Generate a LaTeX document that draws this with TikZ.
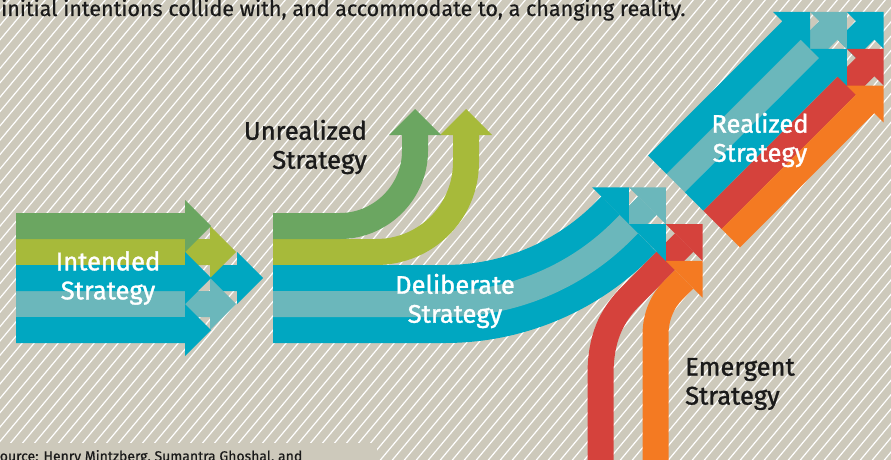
\documentclass[tikz,border=0pt]{standalone}
\usepackage{fontspec}
\setmainfont{Fira Sans}
\newfontfamily\labelfont{Fira Sans}[FakeBold=1.3]
\newfontfamily\leadfont{Fira Sans}[FakeBold=0.6]
\definecolor{sand}{HTML}{CDC9BB}
\definecolor{ink}{HTML}{1A1A1A}
\definecolor{cgreen}{HTML}{6BA661}
\definecolor{clime}{HTML}{A7BA3A}
\definecolor{cteal}{HTML}{00A7C1}
\definecolor{cpale}{HTML}{6BB7BB}
\definecolor{cred}{HTML}{D5423C}
\definecolor{corange}{HTML}{F47A22}
% one strand: colour, tail, head base, centre line
\newcommand{\fletch}[4]{\fill[#1] (#2,#4-13) -- (#3,#4-13) -- (#3,#4-26) -- (#3+26,#4) -- (#3,#4+26) -- (#3,#4+13) -- (#2,#4+13) -- cycle;}

\begin{document}
\begin{tikzpicture}[x=1pt, y=-1pt,
  band/.style={line width=26pt},
  diag/.style={shift={(810,12)}, x={(0.7071pt,0.7071pt)}, y={(0.7071pt,-0.7071pt)}},
  caption/.style={align=center, inner sep=0pt, font=\labelfont\fontsize{25.5}{29}\selectfont}]
  \useasboundingbox (0,0) rectangle (891,460);
  \clip (0,0) rectangle (891,460);
  \fill[sand] (0,0) rectangle (891,460);
  \foreach \i in {-36,...,76}
    \draw[white, line width=1.2pt] (\i*12,470) -- ++(410,-490);
  \fill[sand] (0,443) rectangle (377,460);

  % intended
  \fletch{cteal}{210}{237}{278}
  \fletch{clime}{16}{210}{252}
  \fletch{cpale}{16}{210}{304}
  \fletch{cgreen}{16}{185}{226}
  \fletch{cteal}{16}{185}{278}
  \fletch{cteal}{16}{185}{330}

  % unrealized
  \draw[band, clime] (273,252) -- (376,252) .. controls (426,252) and (466,212) .. (466,162) -- (466,135);
  \fill[clime] (440,135) -- (492,135) -- (466,109) -- cycle;
  \draw[band, cgreen] (273,226) -- (340,226) .. controls (381,226) and (415,192) .. (415,151) -- (415,135);
  \fill[cgreen] (389,135) -- (441,135) -- (415,109) -- cycle;

  \begin{scope}[diag]
    \coordinate (tealend) at (-278,22);
    \coordinate (paleend) at (-252,22);
    \coordinate (redend) at (-252,74);
    \coordinate (orangeend) at (-278,100);
  \end{scope}

  % deliberate and emergent
  \draw[band, cteal, line width=78pt] (273,304) -- (445,304) .. controls (511,304) and (575,278) .. (622,231) -- (tealend);
  \draw[band, cpale] (273,304) -- (445,304) .. controls (511,304) and (575,278) .. (622,231) -- (paleend);
  \draw[band, cred] (600.5,470) -- (600.5,375) .. controls (600.5,340) and (610,316) .. (633,294) -- (redend);
  \draw[band, corange] (655.5,470) -- (655.5,335) .. controls (655.5,317) and (662,301.5) .. (673,290.5) -- (orangeend);

  \begin{scope}[diag]
    \fletch{cpale}{-252}{-252}{22}
    \fletch{cred}{-252}{-252}{74}
    \fletch{cteal}{-278}{-278}{-4}
    \fletch{cteal}{-278}{-278}{48}
    \fletch{corange}{-278}{-278}{100}
    % realized
    \fletch{cteal}{0}{26}{52}
    \fletch{cpale}{-216}{0}{26}
    \fletch{cred}{-216}{0}{78}
    \fletch{cteal}{-216}{-26}{0}
    \fletch{cteal}{-216}{-26}{52}
    \fletch{corange}{-216}{-26}{104}
  \end{scope}

  \node[caption, text=white] (intended) at (108,278) {Intended\\Strategy};
  \node[caption, text=ink, align=right, anchor=east] (unrealized) at (367,147) {Unrealized\\Strategy};
  \node[caption, text=white] (deliberate) at (455,301) {Deliberate\\Strategy};
  \node[caption, text=white] (realized) at (760,140) {Realized\\Strategy};
  \node[caption, text=ink, align=left, anchor=west] (emergent) at (685,384) {Emergent\\Strategy};
  \node[anchor=base west, inner sep=0pt, text=ink, font=\leadfont\fontsize{21.5}{24}\selectfont] (lead) at (1,16) {initial intentions collide with, and accommodate to, a changing reality.};
  \node[anchor=base west, inner sep=0pt, text=ink, font=\leadfont\fontsize{14}{16}\selectfont] (source) at (-8,461) {Source: Henry Mintzberg, Sumantra Ghoshal, and};
\end{tikzpicture}
\end{document}
